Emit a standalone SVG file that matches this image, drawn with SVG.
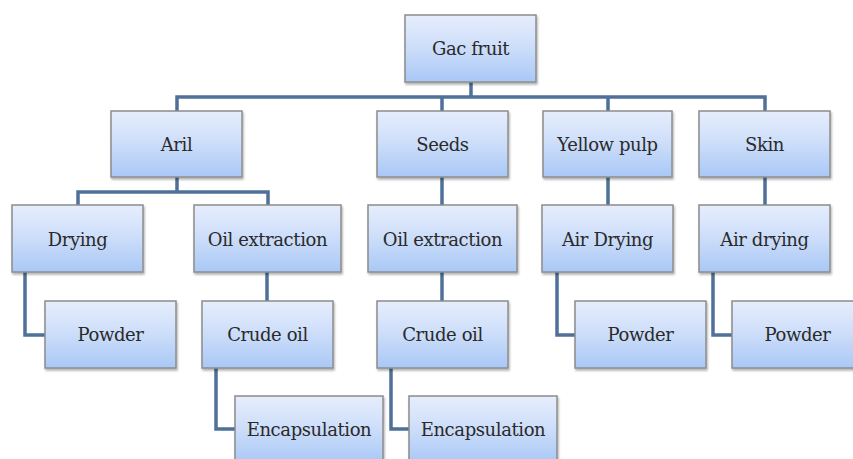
<svg xmlns="http://www.w3.org/2000/svg" width="853" height="459" viewBox="0 0 853 459">
<defs>
<linearGradient id="g" x1="0" y1="0" x2="0" y2="1">
<stop offset="0" stop-color="#e6eefc"/>
<stop offset="0.45" stop-color="#cfdffa"/>
<stop offset="1" stop-color="#a9c8f6"/>
</linearGradient>
<filter id="sh" x="-10%" y="-10%" width="120%" height="130%">
<feDropShadow dx="1" dy="2" stdDeviation="1.2" flood-color="#000" flood-opacity="0.3"/>
</filter>
</defs>
<style>
.box{fill:url(#g);stroke:#8c8c8c;stroke-width:1.5;filter:url(#sh)}
.t{font-family:'DejaVu Serif','Liberation Serif',serif;font-size:18px;letter-spacing:-0.4px;fill:#2a2a2a;text-anchor:middle;dominant-baseline:central}
.c{fill:none;stroke:#4e7099;stroke-width:3.5}
</style>
<rect width="853" height="459" fill="#fff"/>
<g id="connectors">
<path class="c" d="M471 82V97M177 111V97H765V111M442 97V111M608 97V111"/>
<path class="c" d="M177 177V192M78 205V192H268V205"/>
<path class="c" d="M442 177V205M608 177V205M765 177V205"/>
<path class="c" d="M25 272V335H45"/>
<path class="c" d="M267 272V301"/>
<path class="c" d="M442 272V301"/>
<path class="c" d="M557 272V335H575"/>
<path class="c" d="M713 272V335H732"/>
<path class="c" d="M216 368V429H235"/>
<path class="c" d="M391 368V429H409"/>
</g>
<g id="gac"><rect class="box" x="405" y="15" width="131" height="67"/><text class="t" x="470.5" y="48">Gac fruit</text></g>
<g id="aril"><rect class="box" x="111" y="111" width="131" height="66"/><text class="t" x="176.5" y="144">Aril</text></g>
<g id="seeds"><rect class="box" x="377" y="111" width="131" height="66"/><text class="t" x="442.5" y="144">Seeds</text></g>
<g id="yellowpulp"><rect class="box" x="543" y="111" width="129" height="66"/><text class="t" x="607.5" y="144">Yellow pulp</text></g>
<g id="skin"><rect class="box" x="699" y="111" width="131" height="66"/><text class="t" x="764.5" y="144">Skin</text></g>
<g id="drying"><rect class="box" x="12" y="205" width="131" height="67"/><text class="t" x="77.5" y="239">Drying</text></g>
<g id="oilext1"><rect class="box" x="194" y="205" width="147" height="67"/><text class="t" x="267.5" y="239">Oil extraction</text></g>
<g id="oilext2"><rect class="box" x="368" y="205" width="149" height="67"/><text class="t" x="442.5" y="239">Oil extraction</text></g>
<g id="airdrying1"><rect class="box" x="542" y="205" width="131" height="67"/><text class="t" x="607.5" y="239">Air Drying</text></g>
<g id="airdrying2"><rect class="box" x="699" y="205" width="131" height="67"/><text class="t" x="764.5" y="239">Air drying</text></g>
<g id="powder1"><rect class="box" x="45" y="301" width="131" height="67"/><text class="t" x="110.5" y="334">Powder</text></g>
<g id="crudeoil1"><rect class="box" x="202" y="301" width="131" height="67"/><text class="t" x="267.5" y="334">Crude oil</text></g>
<g id="crudeoil2"><rect class="box" x="377" y="301" width="131" height="67"/><text class="t" x="442.5" y="334">Crude oil</text></g>
<g id="powder2"><rect class="box" x="575" y="301" width="131" height="67"/><text class="t" x="640.5" y="334">Powder</text></g>
<g id="powder3"><rect class="box" x="732" y="301" width="131" height="67"/><text class="t" x="797.5" y="334">Powder</text></g>
<g id="encap1"><rect class="box" x="235" y="396" width="148" height="67"/><text class="t" x="309" y="429">Encapsulation</text></g>
<g id="encap2"><rect class="box" x="409" y="396" width="148" height="67"/><text class="t" x="483" y="429">Encapsulation</text></g>
</svg>
